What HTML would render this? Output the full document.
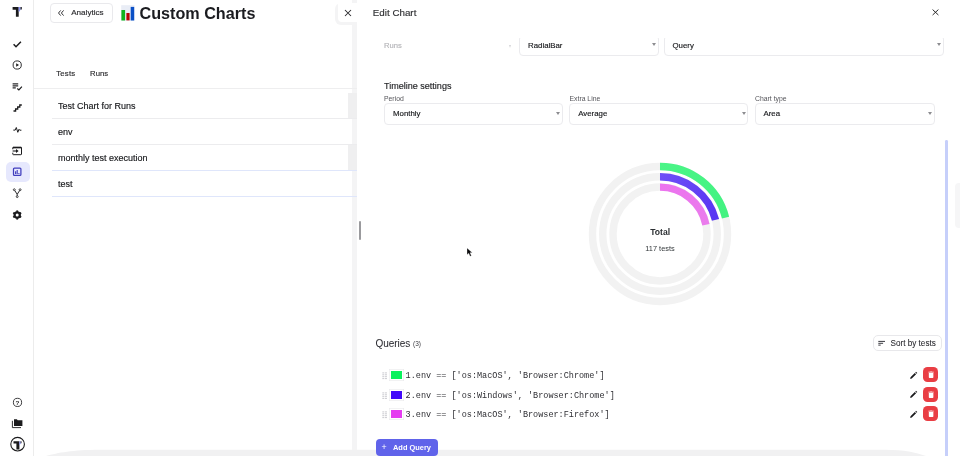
<!DOCTYPE html>
<html><head><meta charset="utf-8"><title>Custom Charts</title>
<style>
*{box-sizing:border-box;margin:0;padding:0}
html,body{width:960px;height:456px;overflow:hidden;background:#fff}
body{font-family:"Liberation Sans",sans-serif;color:#17181b;position:relative;-webkit-text-stroke:0.150px currentColor}
.abs{position:absolute;white-space:pre;line-height:1}
#side{position:absolute;left:0;top:0;width:34px;height:456px;border-right:1px solid #ececec;background:#fff}
.ico{position:absolute;left:9px;width:16px;height:16px}
.row{position:absolute;left:52px;width:305px;height:26px;border-bottom:1px solid #ececee}
.row span{position:absolute;left:6px;top:7px;font-size:9px;line-height:12px;white-space:pre}
#panel{position:absolute;left:357px;top:0;width:603px;height:456px;background:#fff}
.sel{position:absolute;height:21.700px;border:1px solid #ebebee;border-radius:4px;background:#fff}
.sel span{position:absolute;left:8px;top:5.300px;font-size:7.850px;line-height:10px;white-space:pre}
.sel i{position:absolute;right:1.400px;top:7.800px;width:0;height:0;border-left:2.250px solid transparent;border-right:2.250px solid transparent;border-top:3.800px solid #8c8c90}
.lbl{position:absolute;font-size:6.850px;line-height:8px;color:#55555a;white-space:pre;-webkit-text-stroke:0}
.q{position:absolute;left:0;width:603px;height:19px}
.q .h{position:absolute;left:25.200px;top:6.800px;width:5.600px;height:7.600px}
.q .sw{position:absolute;left:34.100px;top:5.600px;width:10.800px;height:7.900px;box-shadow:0 0 0 1.400px #fff,0 0 0 2px #e9e9eb}
.q .t{position:absolute;left:48.600px;top:5.600px;font:8.500px/11px "Liberation Mono",monospace;color:#2e2e33;white-space:pre;-webkit-text-stroke:0}
.q .del{position:absolute;left:566.300px;top:1.700px;width:15.200px;height:15.200px;border-radius:4.500px;background:#e93e44}
.q svg.p{position:absolute;left:552px;top:5px;width:9px;height:9px}
.q .del svg{position:absolute;left:4.600px;top:3.900px;width:6.200px;height:7.200px}
</style></head><body>

<!-- main page -->
<div id="side">
 <!-- logo -->
 <svg class="ico" style="top:4px" viewBox="0 0 16 16"><path d="M3.600 3h6.100v9.700H6.900V5.700H3.600z" fill="#1b1b1d"/><path d="M9.700 3h1.900v2.400L10.300 7.800H9.700z" fill="#8b93f5"/><path d="M11.500 3.100h1.300v2.400h-1.300z" fill="#1b1b1d"/></svg>
 <svg class="ico" style="top:36px" viewBox="0 0 16 16"><path d="M4.600 8.300l2.400 2.400 4.900-5" fill="none" stroke="#1b1b1d" stroke-width="1.500"/></svg>
 <svg class="ico" style="top:57px" viewBox="0 0 16 16"><circle cx="8.2" cy="8" r="4.1" fill="none" stroke="#1b1b1d" stroke-width="0.9"/><path d="M7.2 6.2v3.6l2.8-1.8z" fill="#1b1b1d"/></svg>
 <svg class="ico" style="top:79px" viewBox="0 0 16 16"><path d="M3.600 4.900h5.600M3.600 6.900h5.600M3.600 8.900h3.200" stroke="#2a2a2d" stroke-width="1.100"/><path d="M8.300 9.500l1.600 1.500 3-3.300" fill="none" stroke="#1b1b1d" stroke-width="1.150"/></svg>
 <svg class="ico" style="top:100px" viewBox="0 0 16 16"><path d="M4.500 11h2.100V9h2.100V7h2.100V5h2" fill="none" stroke="#1b1b1d" stroke-width="1.300"/></svg>
 <svg class="ico" style="top:121.500px" viewBox="0 0 16 16"><path d="M4.300 8.100h1.900l1.100-2.600 1.500 4.800 1.200-3 0.700 0.900h1.700" fill="none" stroke="#1b1b1d" stroke-width="1" stroke-linejoin="round"/></svg>
 <svg class="ico" style="top:142.500px" viewBox="0 0 16 16"><path d="M3.800 6.300V4.900a0.600 0.600 0 0 1 0.600-0.600h7.500a0.600 0.600 0 0 1 0.600 0.600v6.200a0.600 0.600 0 0 1-0.600 0.600H4.400a0.600 0.600 0 0 1-0.600-0.600V9.700" fill="none" stroke="#1b1b1d" stroke-width="1"/><path d="M3.800 4.600h8.700" stroke="#1b1b1d" stroke-width="1.500"/><path d="M3.600 8h4" stroke="#1b1b1d" stroke-width="1.100"/><path d="M7 5.900L9.600 8 7 10.100z" fill="#1b1b1d"/></svg>
 <div style="position:absolute;left:5.500px;top:162px;width:24px;height:19.500px;border-radius:5px;background:#e6e8fd"></div>
 <svg class="ico" style="top:164px" viewBox="0 0 16 16"><rect x="4.500" y="4.200" width="7.400" height="7.100" rx="0.900" fill="none" stroke="#403dbd" stroke-width="1.250"/><path d="M6.600 7.300v2.700M8.200 5.900v4.100M9.900 9v1" stroke="#403dbd" stroke-width="1.100"/></svg>
 <svg class="ico" style="top:185px" viewBox="0 0 16 16"><path d="M5.600 5.300L8.200 9.300 10.800 5.300M8.200 9.300v1.400" fill="none" stroke="#1b1b1d" stroke-width="0.950"/><g fill="#fff" stroke="#1b1b1d" stroke-width="0.800"><circle cx="5.300" cy="4.700" r="0.950"/><circle cx="11.100" cy="4.700" r="0.950"/><circle cx="8.200" cy="11.600" r="0.950"/></g></svg>
 <svg class="ico" style="top:206.500px" viewBox="0 0 16 16"><g transform="translate(8.200 8)"><circle r="2.600" fill="none" stroke="#1b1b1d" stroke-width="2.300"/><g fill="#1b1b1d"><rect x="-0.900" y="-4.600" width="1.800" height="9.200"/><rect x="-0.900" y="-4.600" width="1.800" height="9.200" transform="rotate(60)"/><rect x="-0.900" y="-4.600" width="1.800" height="9.200" transform="rotate(120)"/></g><circle r="1.500" fill="#fff"/></g></svg>
 <svg class="ico" style="top:394px" viewBox="0 0 16 16"><circle cx="8.500" cy="8.400" r="4.100" fill="none" stroke="#1b1b1d" stroke-width="0.850"/><text x="8.500" y="10.600" font-size="6.200" font-weight="bold" text-anchor="middle" font-family="Liberation Sans, sans-serif" fill="#1b1b1d">?</text></svg>
 <svg class="ico" style="top:415px" viewBox="0 0 16 16"><path d="M5 4.300h2.800l0.900 1h4.700v5.800H5z" fill="#1b1b1d"/><path d="M3.400 5.800v6.800h8.600" fill="none" stroke="#1b1b1d" stroke-width="0.900"/></svg>
 <svg class="ico" style="top:436px;left:8px;width:18px;height:18px" viewBox="0 0 18 18"><circle cx="9.600" cy="8.200" r="6.800" fill="#fff" stroke="#1b1b1d" stroke-width="1.100"/><path d="M5.500 5.200h5.900v8.200H8.400V7.600H5.500z" fill="#1b1b1d"/><path d="M11.400 5.200h1.300v2l-0.900 1.800h-0.400z" fill="#8b93f5"/><path d="M12.600 5.300h0.900v1.900h-0.900z" fill="#1b1b1d"/></svg>
</div>

<!-- Analytics button -->
<div style="position:absolute;left:49.500px;top:3px;width:63px;height:19.500px;border:1px solid #e9e9ec;border-radius:4px"></div>
<svg style="position:absolute;left:57px;top:9px;width:8px;height:8px" viewBox="0 0 8 8"><path d="M3.700 1.400L1.500 4l2.200 2.600M6.600 1.400L4.400 4l2.200 2.600" fill="none" stroke="#2a2a2d" stroke-width="0.950"/></svg>
<div class="abs" style="left:71.200px;top:9px;font-size:8.100px;color:#2a2a2d">Analytics</div>
<!-- chart emoji -->
<svg style="position:absolute;left:120.500px;top:5px;width:15px;height:16px" viewBox="0 0 15 16"><rect x="0.200" y="0.200" width="13.300" height="15.500" fill="#e9edf6"/><rect x="0.400" y="5" width="3.700" height="10.500" fill="#10b41e"/><rect x="5.400" y="8" width="3.200" height="7.400" fill="#b80404"/><rect x="9.700" y="1.900" width="3.500" height="13.600" fill="#0b50c6"/></svg>
<div class="abs" style="left:139.500px;top:4.500px;font-size:16.180px;font-weight:bold;color:#1b1c20;-webkit-text-stroke:0">Custom Charts</div>

<div style="position:absolute;left:352px;top:0;width:5px;height:456px;background:#f4f4f5"></div>
<!-- tabs -->
<div class="abs" style="left:56.200px;top:70.300px;font-size:7.800px;letter-spacing:0.220px;color:#2a2a2d">Tests</div>
<div class="abs" style="left:90.100px;top:70.300px;font-size:7.700px;color:#2a2a2d">Runs</div>
<div style="position:absolute;left:34px;top:88px;width:323px;height:1px;background:#eeeeef"></div>

<div class="row" style="top:92.500px"><span>Test Chart for Runs</span><div style="position:absolute;right:0;top:0;width:9.500px;height:25px;background:#efeff0"></div></div>
<div class="row" style="top:118.500px"><span>env</span></div>
<div class="row" style="top:144.500px;border-color:#dfe6fb"><span>monthly test execution</span><div style="position:absolute;right:0;top:0;width:9.500px;height:25px;background:#efeff0"></div></div>
<div class="row" style="top:170.500px;border-color:#dfe6fb"><span>test</span></div>

<!-- shadow strip and close tab -->
<div style="position:absolute;left:335px;top:3px;width:22px;height:22px;background:#f4f4f5;border-radius:6px 0 0 6px"></div>
<div style="position:absolute;left:338px;top:0;width:19px;height:21.500px;background:#fff;border-radius:0 0 0 4px"></div>
<div style="position:absolute;left:352px;top:0;width:5px;height:2.500px;background:#f4f4f5"></div>
<svg style="position:absolute;left:343.800px;top:9px;width:8px;height:8px" viewBox="0 0 8 8"><path d="M1 1l6 6M7 1L1 7" stroke="#2a2a2d" stroke-width="1.050"/></svg>

<!-- panel -->
<div id="panel">
 <div class="abs" style="left:15.800px;top:8px;font-size:9.800px;color:#2f3033">Edit Chart</div>
 <svg style="position:absolute;left:574.600px;top:9.300px;width:7px;height:6.600px" preserveAspectRatio="none" viewBox="0 0 7 7"><path d="M0.600 0.600l5.800 5.800M6.400 0.600L0.600 6.400" stroke="#222" stroke-width="1"/></svg>

 <!-- row 1 selects (clipped at top) -->
 <div style="position:absolute;left:0;top:37.500px;width:603px;height:24px;overflow:hidden">
  <div class="sel" style="left:162px;top:-3px;width:139.500px"><span>RadialBar</span><i></i></div>
  <div class="sel" style="left:306.500px;top:-3px;width:280px"><span>Query</span><i></i></div>
  <div class="abs" style="left:27px;top:4.500px;font-size:7.600px;color:#b4b4b8">Runs</div>
  <i style="position:absolute;left:152px;top:7.500px;width:0;height:0;border-left:1.500px solid transparent;border-right:1.500px solid transparent;border-top:3px solid #d5d5d8"></i>
 </div>

 <div class="abs" style="left:27px;top:81.800px;font-size:9.040px;color:#222326">Timeline settings</div>
 <div class="lbl" style="left:27px;top:94.500px">Period</div>
 <div class="lbl" style="left:212.500px;top:94.500px">Extra Line</div>
 <div class="lbl" style="left:398px;top:94.500px">Chart type</div>
 <div class="sel" style="left:27px;top:103px;width:178.800px"><span>Monthly</span><i></i></div>
 <div class="sel" style="left:212.200px;top:103px;width:179px"><span>Average</span><i></i></div>
 <div class="sel" style="left:397.500px;top:103px;width:180px"><span>Area</span><i></i></div>

 <!-- radial chart -->
 <svg style="position:absolute;left:222.500px;top:154px;width:160px;height:160px" viewBox="-80 -80 160 160">
  <defs>
   <linearGradient id="g1" gradientUnits="userSpaceOnUse" x1="0" y1="-70" x2="70" y2="-10"><stop offset="0" stop-color="#4af587"/><stop offset="1" stop-color="#42f280"/></linearGradient>
   <linearGradient id="g2" gradientUnits="userSpaceOnUse" x1="0" y1="-60" x2="60" y2="-10"><stop offset="0" stop-color="#6e50f7"/><stop offset="1" stop-color="#5632f2"/></linearGradient>
   <linearGradient id="g3" gradientUnits="userSpaceOnUse" x1="0" y1="-50" x2="50" y2="-10"><stop offset="0" stop-color="#ec72ef"/><stop offset="1" stop-color="#ea7cec"/></linearGradient>
  </defs>
  <g fill="none" stroke="#f2f2f2" stroke-width="7.400">
   <circle r="67.500"/><circle r="57.250"/><circle r="47"/>
  </g>
  <g fill="none" stroke-width="7.400">
   <path stroke="url(#g1)" d="M0 -67.55 A67.55 67.55 0 0 1 65.54 -16.34"/>
   <path stroke="url(#g2)" d="M0 -57.25 A57.25 57.25 0 0 1 55.50 -14.04"/>
   <path stroke="url(#g3)" d="M0 -46.85 A46.85 46.85 0 0 1 45.94 -9.18"/>
  </g>
  <text x="0.100" y="0.700" text-anchor="middle" font-size="8.600" font-weight="bold" font-family="Liberation Sans, sans-serif" fill="#2c3033" style="-webkit-text-stroke:0.250px #2c3033">Total</text>
  <text x="0" y="17" text-anchor="middle" font-size="7.400" font-family="Liberation Sans, sans-serif" fill="#33383b" style="-webkit-text-stroke:0">117 tests</text>
 </svg>

 <!-- Queries -->
 <div class="abs" style="left:18.500px;top:338.600px;font-size:10px;letter-spacing:-0.050px;color:#2f2f35;-webkit-text-stroke:0.050px">Queries</div>
 <div class="abs" style="left:56px;top:341px;font-size:6.500px;color:#3c3c42;-webkit-text-stroke:0">(3)</div>
 <div style="position:absolute;left:515.800px;top:335px;width:69.700px;height:15.700px;border:1px solid #e8e8eb;border-radius:5px"></div>
 <svg style="position:absolute;left:521px;top:339.500px;width:8px;height:7px" viewBox="0 0 8 7"><path d="M0.300 1.400h6.700M0.300 3.300h4.800M0.300 5.100h2.400" stroke="#3a3a40" stroke-width="1"/></svg>
 <div class="abs" style="left:533.500px;top:339.500px;font-size:8.170px;color:#26262b;-webkit-text-stroke:0.050px">Sort by tests</div>

 <div class="q" style="top:365.600px"><svg class="h" viewBox="0 0 5.600 7.600"><path d="M0.300 0.900h5M0.300 2.800h5M0.300 4.700h5M0.300 6.600h5" stroke="#c4c4c9" stroke-width="0.900" stroke-dasharray="2 0.700"/></svg><div class="sw" style="background:#0af25c"></div><div class="t">1.env == ['os:MacOS', 'Browser:Chrome']</div><svg class="p" viewBox="0 0 9 9"><path d="M1.200 7.900l0.300-1.700 4.300-4.300 1.300 1.300L2.800 7.500zM6.300 1.400l0.700-0.700 1.300 1.300-0.700 0.700z" fill="#1b1b1d"/></svg><div class="del"><svg viewBox="0 0 7.500 8.500"><path d="M1 2.200h5.500v5.300a0.800 0.800 0 0 1-0.800 0.800H1.800a0.800 0.800 0 0 1-0.800-0.800zM0.500 0.900h2l0.400-0.500h1.700l0.400 0.500h2v0.900H0.500z" fill="#fff"/></svg></div></div>
 <div class="q" style="top:385.100px"><svg class="h" viewBox="0 0 5.600 7.600"><path d="M0.300 0.900h5M0.300 2.800h5M0.300 4.700h5M0.300 6.600h5" stroke="#c4c4c9" stroke-width="0.900" stroke-dasharray="2 0.700"/></svg><div class="sw" style="background:#4108fa"></div><div class="t">2.env == ['os:Windows', 'Browser:Chrome']</div><svg class="p" viewBox="0 0 9 9"><path d="M1.200 7.900l0.300-1.700 4.300-4.300 1.300 1.300L2.800 7.500zM6.300 1.400l0.700-0.700 1.300 1.300-0.700 0.700z" fill="#1b1b1d"/></svg><div class="del"><svg viewBox="0 0 7.500 8.500"><path d="M1 2.200h5.500v5.300a0.800 0.800 0 0 1-0.800 0.800H1.800a0.800 0.800 0 0 1-0.800-0.800zM0.500 0.900h2l0.400-0.500h1.700l0.400 0.500h2v0.900H0.500z" fill="#fff"/></svg></div></div>
 <div class="q" style="top:404.500px"><svg class="h" viewBox="0 0 5.600 7.600"><path d="M0.300 0.900h5M0.300 2.800h5M0.300 4.700h5M0.300 6.600h5" stroke="#c4c4c9" stroke-width="0.900" stroke-dasharray="2 0.700"/></svg><div class="sw" style="background:#e53cf0"></div><div class="t">3.env == ['os:MacOS', 'Browser:Firefox']</div><svg class="p" viewBox="0 0 9 9"><path d="M1.200 7.900l0.300-1.700 4.300-4.300 1.300 1.300L2.800 7.500zM6.300 1.400l0.700-0.700 1.300 1.300-0.700 0.700z" fill="#1b1b1d"/></svg><div class="del"><svg viewBox="0 0 7.500 8.500"><path d="M1 2.200h5.500v5.300a0.800 0.800 0 0 1-0.800 0.800H1.800a0.800 0.800 0 0 1-0.800-0.800zM0.500 0.900h2l0.400-0.500h1.700l0.400 0.500h2v0.900H0.500z" fill="#fff"/></svg></div></div>

 <!-- Add Query -->
 <div style="position:absolute;left:18.500px;top:438.500px;width:62px;height:17.500px;border-radius:4px;background:#6063ea;z-index:6"></div>
 <div class="abs" style="left:24.600px;top:443.300px;font-size:8.800px;color:#fff;z-index:7;-webkit-text-stroke:0">+</div>
 <div class="abs" style="left:36px;top:443.800px;font-size:7.430px;font-weight:bold;color:#fff;z-index:7;-webkit-text-stroke:0">Add Query</div>

 <!-- scrollbar -->
 <div style="position:absolute;left:588px;top:139.500px;width:2.800px;height:320px;background:#c6cffa;border-radius:1.400px"></div>
 <!-- faint widget -->
 <div style="position:absolute;left:598.200px;top:183px;width:8px;height:45px;border-radius:5px;background:#f6f6f7"></div>
</div>

<!-- resize handle -->
<div style="position:absolute;left:359px;top:220.500px;width:1.500px;height:19px;background:#9a9a9d;border-radius:1px"></div>

<!-- cursor -->
<svg style="position:absolute;left:465.500px;top:246.500px;width:8px;height:11px;z-index:9" viewBox="0 0 8 11"><path d="M1 1v6.700l1.700-1.500 1.400 3.100 1.300-0.600-1.400-3h2.300z" fill="#0b0b0c" stroke="#fff" stroke-width="0.500" stroke-opacity="0.600"/></svg>
<!-- bottom band -->
<svg style="position:absolute;left:0;top:436px;width:960px;height:20px;z-index:5" viewBox="0 0 960 20"><path d="M46 20 C58 16.800 72 13.900 100 13.800 H885 C905 13.900 915 16.300 926 20 Z" fill="#f1f1f2"/></svg>
</body></html>
